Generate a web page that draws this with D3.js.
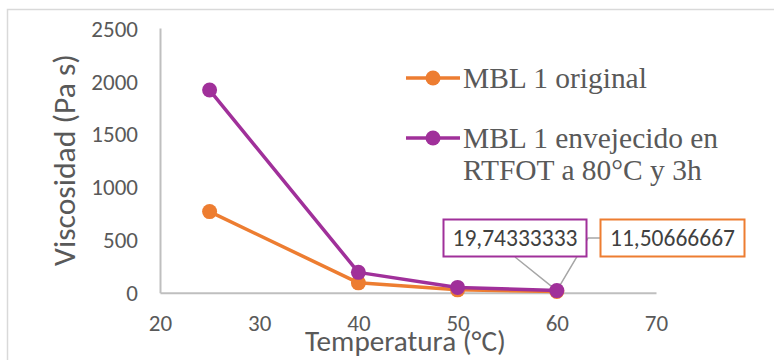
<!DOCTYPE html>
<html>
<head>
<meta charset="utf-8">
<script src="https://cdn.jsdelivr.net/npm/d3@7"></script>
<style>
  html, body { margin: 0; padding: 0; background: #fff; }
  svg { display: block; }
</style>
</head>
<body>
<svg id="chart" width="774" height="360"></svg>
<script>
// Viscosity vs temperature for two binder samples
const temperatures = [25, 40, 50, 60];
const originalVisc = [766, 93, 27, 11.50666667];
const agedVisc = [1914, 192, 50, 19.74333333];
const seriesNames = ["MBL 1 original", "MBL 1 envejecido en", "RTFOT a 80°C y 3h"];
const xTicks = [20, 30, 40, 50, 60, 70];
const yTicks = [0, 500, 1000, 1500, 2000, 2500];
const xTitle = "Temperatura (°C)";
const yTitle = "Viscosidad  (Pa s)";
const labelOriginal = "11,50666667";
const labelAged = "19,74333333";

const orange = "#ED7D31";
const purple = "#A0309A";
const grayText = "#595959";
const axisGray = "#BFBFBF";
const sans = "Carlito, 'Open Sans', 'Noto Sans', sans-serif";
const serif = "'Liberation Serif', 'DejaVu Serif', serif";

const svg = d3.select("#chart");

// size a text element so that it spans the given width
function fitWidth(sel, width) {
  const base = 20;
  sel.attr("font-size", base);
  const w = sel.node().getComputedTextLength();
  sel.attr("font-size", base * width / w);
  return sel;
}

// chart frame
svg.append("rect")
  .attr("x", 7.5).attr("y", 9.5)
  .attr("width", 800).attr("height", 400)
  .attr("fill", "none").attr("stroke", "#D9D9D9").attr("stroke-width", 1.5);

const x = d3.scaleLinear().domain([20, 70]).range([160, 656]);
const y = d3.scaleLinear().domain([0, 2500]).range([292.7, 28]);

// axes
const xAxis = d3.axisBottom(x).tickValues(xTicks).tickFormat(d3.format("d")).tickSize(0);
const yAxis = d3.axisLeft(y).tickValues(yTicks).tickFormat(d3.format("d")).tickSize(0).tickPadding(22);

const gx = svg.append("g").attr("transform", `translate(0,${y(0)})`).call(xAxis);
const gy = svg.append("g").attr("transform", `translate(${x(20)},0)`).call(yAxis);
[gx, gy].forEach(g => {
  g.select(".domain").attr("stroke", axisGray).attr("stroke-width", 2);
  g.selectAll("text").attr("fill", grayText).attr("font-family", sans).attr("font-size", 23);
});
gy.selectAll("text").attr("dy", "0.35em");
gx.selectAll("text").attr("dy", "0.35em").attr("y", 30);

// axis titles
const xt = svg.append("text")
  .attr("x", 305).attr("y", 351)
  .attr("font-family", sans).attr("fill", grayText)
  .text(xTitle);
fitWidth(xt, 201);
const yt = svg.append("text")
  .attr("transform", "translate(75,160) rotate(-90)")
  .attr("text-anchor", "middle")
  .attr("font-family", sans).attr("fill", grayText)
  .text(yTitle);
fitWidth(yt, 212);

// leader lines for the data labels
const pLast = [x(temperatures[3]), y(agedVisc[3])];
svg.append("polyline")
  .attr("points", `515,257 ${pLast[0]},${pLast[1]} 588,238 600,238`)
  .attr("fill", "none").attr("stroke", "#A6A6A6").attr("stroke-width", 1.5);

// series lines and markers
const line = d3.line().x((d, i) => x(temperatures[i])).y(d => y(d));
const series = [
  { values: originalVisc, color: orange },
  { values: agedVisc, color: purple }
];
series.forEach(s => {
  svg.append("path").datum(s.values)
    .attr("d", line).attr("fill", "none")
    .attr("stroke", s.color).attr("stroke-width", 3.5).attr("stroke-linejoin", "round");
  svg.append("g").selectAll("circle").data(s.values).join("circle")
    .attr("cx", (d, i) => x(temperatures[i])).attr("cy", d => y(d))
    .attr("r", 7.5).attr("fill", s.color);
});

// data label boxes
function dataLabel(x0, y0, w, h, color, txt) {
  svg.append("rect").attr("x", x0).attr("y", y0).attr("width", w).attr("height", h)
    .attr("fill", "#fff").attr("stroke", color).attr("stroke-width", 2);
  const t = svg.append("text").attr("x", x0 + w / 2).attr("y", y0 + h / 2).attr("dy", "0.35em")
    .attr("text-anchor", "middle").attr("font-family", sans)
    .attr("fill", "#404040").text(txt);
  fitWidth(t, 125);
}
dataLabel(443.5, 219.5, 143, 37, purple, labelAged);
dataLabel(600.5, 219.5, 144, 37, orange, labelOriginal);

// legend
const legend = svg.append("g");
const legendRows = [
  { color: orange, lineY: 78, texts: [[seriesNames[0], 88]] },
  { color: purple, lineY: 138, texts: [[seriesNames[1], 148], [seriesNames[2], 180]] }
];
const probe = legend.append("text").attr("font-family", serif).text(seriesNames[0]);
fitWidth(probe, 184);
const legendSize = +probe.attr("font-size");
probe.remove();
legendRows.forEach(r => {
  legend.append("line").attr("x1", 406).attr("x2", 460).attr("y1", r.lineY).attr("y2", r.lineY)
    .attr("stroke", r.color).attr("stroke-width", 3.5);
  legend.append("circle").attr("cx", 433).attr("cy", r.lineY).attr("r", 7.5).attr("fill", r.color);
  r.texts.forEach(([t, ty]) => {
    legend.append("text").attr("x", 463).attr("y", ty)
      .attr("font-family", serif).attr("font-size", legendSize).attr("fill", grayText).text(t);
  });
});
</script>
</body>
</html>
